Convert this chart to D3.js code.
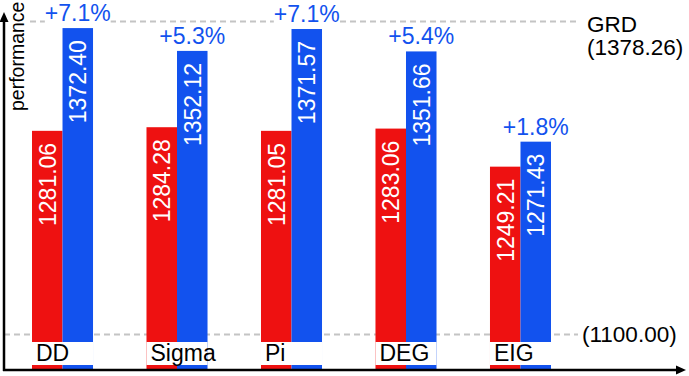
<!DOCTYPE html>
<html>
<head>
<meta charset="utf-8">
<script src="https://cdn.jsdelivr.net/npm/d3@7"></script>
<style>
  body { margin: 0; background: #fff; }
  svg { display: block; font-family: 'Liberation Sans', Arial, sans-serif; }
</style>
</head>
<body>
<main></main>
<script>
'use strict';

// data
const categories = ['DD', 'Sigma', 'Pi', 'DEG', 'EIG'];
const baseValues = [1281.06, 1284.28, 1281.05, 1283.06, 1249.21];
const oursValues = [1372.40, 1352.12, 1371.57, 1351.66, 1271.43];
const gainLabels = ['+7.1%', '+5.3%', '+7.1%', '+5.4%', '+1.8%'];
const grdValue = 1378.26;
const floorValue = 1100;

const width = 689,
  height = 376,
  axisX = 4,
  axisY = 370;

const red = '#ee1111',
  blue = '#1252ee';

const svg = d3.select('main')
  .append('svg')
  .attr('width', width)
  .attr('height', height);

const x = d3.scaleBand()
  .domain(categories)
  .range([32, 551])
  .paddingInner(0.467)
  .paddingOuter(0);

const xs = d3.scaleBand()
  .domain(['base', 'ours'])
  .range([0, x.bandwidth()]);

const y = d3.scaleLinear()
  .domain([floorValue, grdValue])
  .range([334.5, 21.5]);

const rows = categories.map((c, i) => ({
  cat: c,
  base: baseValues[i],
  ours: oursValues[i],
  gain: gainLabels[i]
}));

// reference lines
svg.append('line')
  .attr('x1', 30).attr('x2', 580)
  .attr('y1', y(grdValue)).attr('y2', y(grdValue))
  .attr('stroke', '#c4c4c4').attr('stroke-width', 2)
  .attr('stroke-dasharray', '6,4');

svg.append('line')
  .attr('x1', axisX).attr('x2', 578)
  .attr('y1', y(floorValue)).attr('y2', y(floorValue))
  .attr('stroke', '#c4c4c4').attr('stroke-width', 2)
  .attr('stroke-dasharray', '6,4');

// bars
const groups = svg.append('g')
  .selectAll('g')
  .data(rows)
  .enter()
  .append('g')
  .attr('transform', d => `translate(${x(d.cat)},0)`);

const series = [
  { key: 'base', color: red },
  { key: 'ours', color: blue }
];

series.forEach(s => {
  groups.append('rect')
    .attr('x', xs(s.key))
    .attr('y', d => y(d[s.key]))
    .attr('width', xs.bandwidth())
    .attr('height', d => axisY - y(d[s.key]))
    .attr('fill', s.color);

  groups.append('text')
    .attr('transform', d => `translate(${xs(s.key) + xs.bandwidth() / 2},${y(d[s.key]) + 12}) rotate(-90)`)
    .attr('dy', '0.36em')
    .attr('text-anchor', 'end')
    .attr('fill', '#fff')
    .style('font-size', '23px')
    .text(d => d[s.key].toFixed(2));
});

// axis break band with category names
groups.append('rect')
  .attr('x', 0)
  .attr('y', 342)
  .attr('width', x.bandwidth())
  .attr('height', 23)
  .attr('fill', '#fff');

groups.append('text')
  .attr('x', 4)
  .attr('y', 361)
  .style('font-size', '23px')
  .attr('fill', '#000')
  .text(d => d.cat);

// gain labels above the blue bars
const gains = groups.append('text')
  .attr('x', xs('ours') + xs.bandwidth() / 2)
  .attr('y', d => y(d.ours) - 7)
  .attr('text-anchor', 'middle')
  .attr('fill', blue)
  .style('font-size', '23px')
  .text(d => d.gain);

gains.each(function () {
  const b = this.getBBox();
  d3.select(this.parentNode).insert('rect', () => this)
    .attr('x', b.x).attr('y', b.y)
    .attr('width', b.width).attr('height', b.height)
    .attr('fill', '#fff');
});

// reference line labels
svg.append('text')
  .attr('x', 587).attr('y', 32)
  .style('font-size', '22.5px')
  .text('GRD');
svg.append('text')
  .attr('x', 587).attr('y', 55)
  .style('font-size', '22.5px')
  .text(`(${grdValue.toFixed(2)})`);
svg.append('text')
  .attr('x', 582).attr('y', y(floorValue))
  .attr('dy', '0.35em')
  .style('font-size', '22.5px')
  .text(`(${floorValue.toFixed(2)})`);

// axes with arrows
svg.append('line')
  .attr('x1', axisX).attr('x2', axisX)
  .attr('y1', axisY + 1).attr('y2', 20)
  .attr('stroke', '#000').attr('stroke-width', 2.5);
svg.append('path')
  .attr('d', `M${axisX},12 L${axisX - 4.5},22 L${axisX + 4.5},22 Z`)
  .attr('fill', '#000');

svg.append('line')
  .attr('x1', axisX - 1).attr('x2', 678)
  .attr('y1', axisY).attr('y2', axisY)
  .attr('stroke', '#000').attr('stroke-width', 2.5);
svg.append('path')
  .attr('d', `M686,${axisY} L676,${axisY - 4.5} L676,${axisY + 4.5} Z`)
  .attr('fill', '#000');

svg.append('text')
  .attr('transform', 'translate(24,111) rotate(-90)')
  .style('font-size', '19.5px')
  .text('performance');
</script>
</body>
</html>
